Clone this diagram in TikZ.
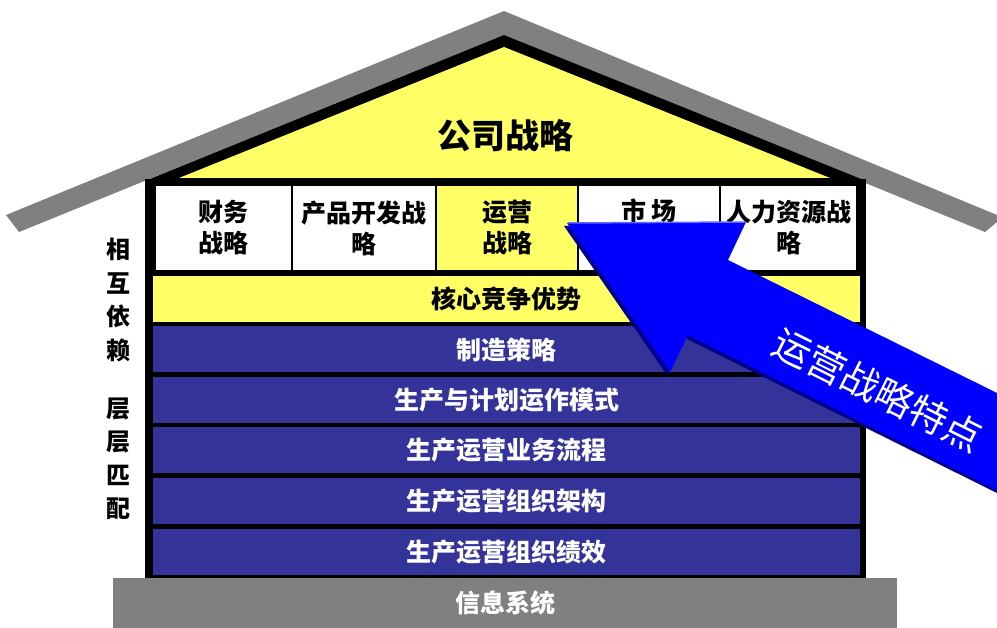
\documentclass[tikz,border=0pt]{standalone}
\usepackage{fontspec}
\setmainfont{Noto Sans CJK SC}
\definecolor{hyellow}{HTML}{FFFF66}
\definecolor{hblue}{HTML}{333399}
\definecolor{hgray}{HTML}{808080}
\definecolor{arrowblue}{HTML}{0000FF}
\definecolor{arrowdark}{HTML}{00008B}
\definecolor{arrowlight}{HTML}{6666FF}
\begin{document}
\begin{tikzpicture}[x=1pt,y=-1pt,
  cjkb/.style={font=\bfseries\fontsize{25}{31}\selectfont},
  cellbox/.style={draw=black, line width=1.5pt, fill=white, inner sep=0pt, align=center, cjkb, minimum height=86pt},
  rowbox/.style={inner sep=0pt, minimum width=707pt, minimum height=46pt, cjkb},
  bluerow/.style={rowbox, fill=hblue, text=white},
  sidetext/.style={cjkb, align=center, font=\bfseries\fontsize{24}{33.5}\selectfont}
]
\useasboundingbox (0,0) rectangle (997,628);
% roof
\fill[hgray] (6,215) -- (504,11) -- (997,215) -- (997,222) -- (985,232) -- (504,35) -- (19,232) -- cycle;
\fill[black] (145,181) -- (504,35) -- (866,181) -- cycle;
\fill[hyellow] (179,178) -- (504,47) -- (830,178) -- cycle;
\node[font=\bfseries\fontsize{34}{40}\selectfont] (corp) at (505,136) {公司战略};
% house body
\fill[black] (145,179) rectangle (866,579);
% top row cells
\node[cellbox, minimum width=137pt] (c1) at (223.5,228) {财务\\战略};
\node[cellbox, minimum width=144pt] (c2) at (364,228) {产品开发战\\略};
\node[cellbox, minimum width=142pt, fill=hyellow] (c3) at (507,228) {运营\\战略};
\node[cellbox, minimum width=142pt, text depth=0pt] (c4) at (649,228) {};
\node[cjkb] (c4t) at (649,211) {市\,场};
\node[cellbox, minimum width=137pt] (c5) at (788.5,228) {人力资源战\\略};
% rows
\node[rowbox, fill=hyellow] (core) at (506.5,299) {核心竞争优势};
\node[bluerow] (r1) at (506.5,349.5) {制造策略};
\node[bluerow] (r2) at (506.5,400) {生产与计划运作模式};
\node[bluerow] (r3) at (506.5,450.5) {生产运营业务流程};
\node[bluerow] (r4) at (506.5,501) {生产运营组织架构};
\node[bluerow] (r5) at (506.5,552) {生产运营组织绩效};
% base
\node[fill=hgray, inner sep=0pt, minimum width=784pt, minimum height=51pt, text=white, cjkb] (base) at (505,603) {信息系统};
% side texts
\node[sidetext] (s1) at (118,300) {相\\互\\依\\赖};
\node[sidetext] (s2) at (118,459) {层\\层\\匹\\配};
% big arrow
\fill[arrowdark] (564,226) -- (743,225) -- (725,263) -- (997,396) -- (997,493) -- (685,338) -- (667,375) -- cycle;
\fill[arrowblue] (567,223) -- (746,222) -- (728,260) -- (997,393) -- (997,490) -- (688,335) -- (670,372) -- cycle;
\draw[arrowlight, line width=1.5pt] (568,223) -- (745,222);
\node[rotate=-26.5, text=white, font=\fontsize{38}{44}\selectfont] (feat) at (878,390) {运营战略特点};
\end{tikzpicture}
\end{document}
